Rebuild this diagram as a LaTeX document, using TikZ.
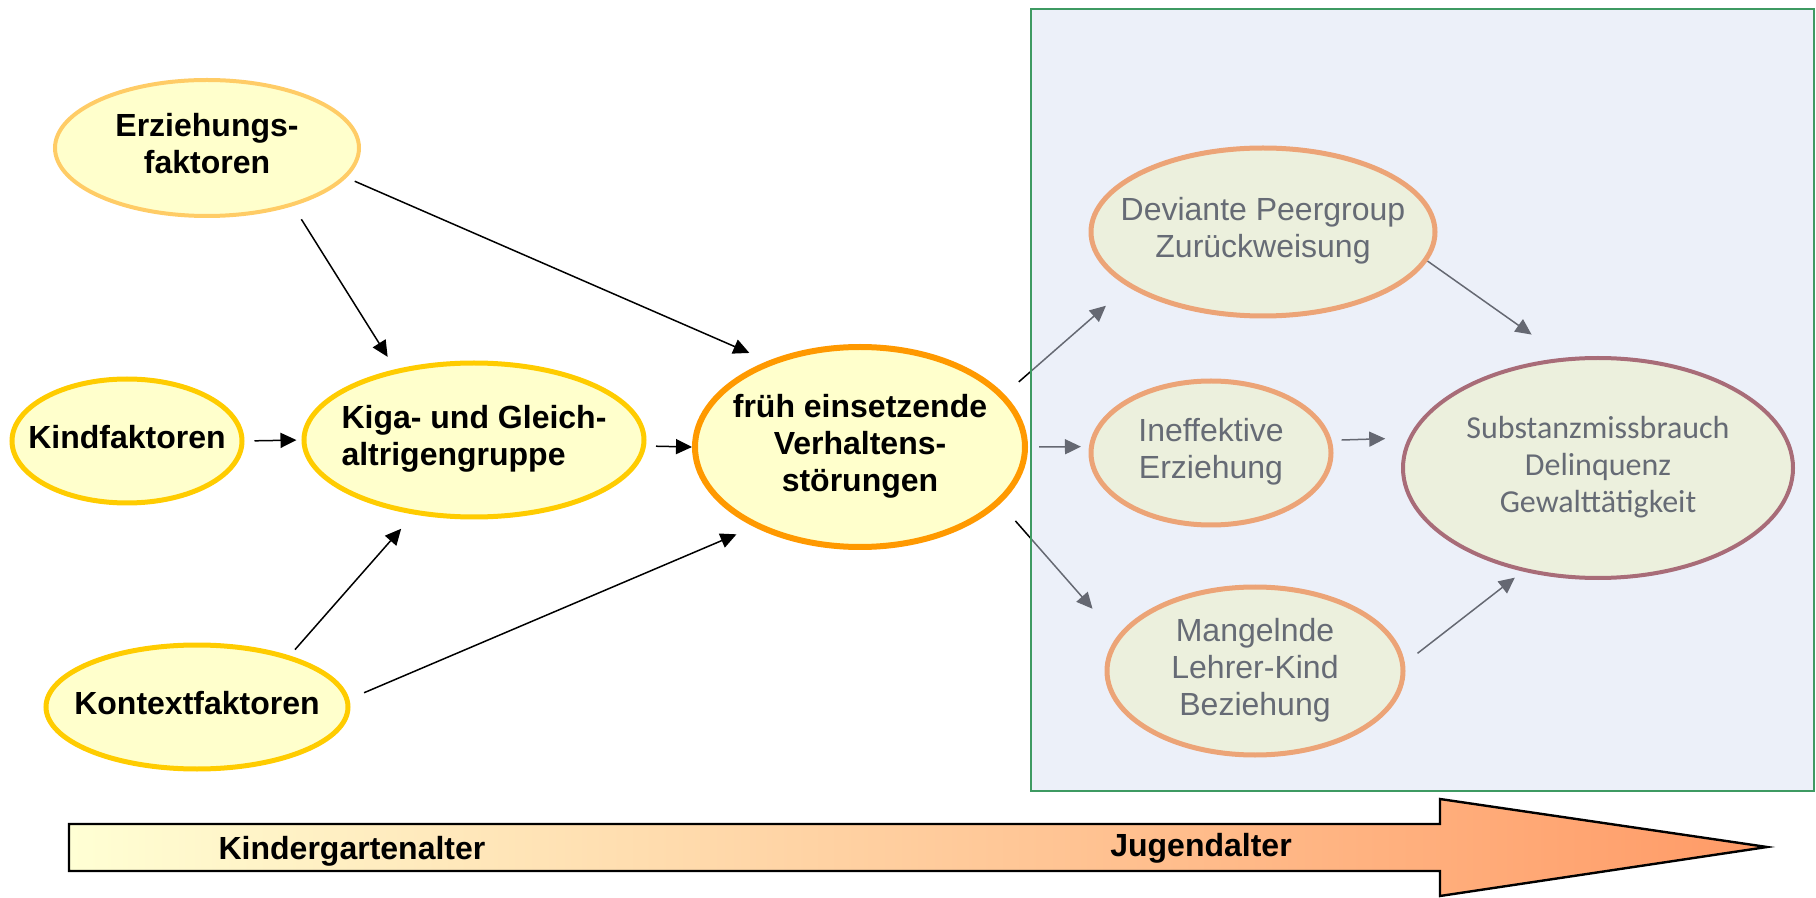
\documentclass[tikz,border=0pt]{standalone}
\usepackage{fontspec}
\setmainfont{Liberation Sans}
\newfontfamily\carlito{Carlito}
\usetikzlibrary{shapes.geometric,arrows.meta}

\definecolor{paleyellow}{HTML}{FFFFCC}
\definecolor{lightgold}{HTML}{FFCC66}
\definecolor{gold}{HTML}{FFCC00}
\definecolor{deeporange}{HTML}{FF9900}
\definecolor{sage}{HTML}{ECF0DD}
\definecolor{salmon}{HTML}{ECA477}
\definecolor{mauve}{HTML}{A86C78}
\definecolor{slate}{HTML}{666B75}
\definecolor{tintblue}{HTML}{D7DFF3}
\definecolor{boxgreen}{HTML}{3E9A62}
\definecolor{arrowstart}{HTML}{FFFFD4}
\definecolor{arrowend}{HTML}{FF9A66}

\pgfdeclarelayer{tint}
\pgfdeclarelayer{front}
\pgfsetlayers{main,tint,front}

% text of an oval, kept out of the oval's size
\newcommand{\ovaltext}[2][c]{\makebox[0pt]{\begin{tabular}{@{}#1@{}}#2\end{tabular}}}

\begin{document}
\begin{tikzpicture}[x=0.5pt,y=-0.5pt,
			axes/.style 2 args={minimum width=#1pt,minimum height=#2pt},
			base node/.style={ellipse,inner sep=0pt,fill=paleyellow,font=\fontsize{16}{18.5}\selectfont\bfseries},
			main node/.style={base node,draw=gold,line width=2.5pt},
			late node/.style={ellipse,inner sep=0pt,fill=sage,draw=salmon,line width=2.5pt,text=slate,font=\fontsize{16}{18.5}\selectfont},
			age label/.style={font=\fontsize{16}{18.5}\selectfont\bfseries},
			arr/.style={-{Triangle[length=8pt,width=7.5pt]},line width=0.75pt}
			]
			
			\useasboundingbox (0,0) rectangle (1816,898);
			
			\begin{pgfonlayer}{front}
			% Kindergartenalter
			\node[base node,draw=lightgold,line width=2pt,axes={152}{68}] (erz) at (207,148) {\ovaltext{Erziehungs-\\faktoren}};
			\node[main node,axes={115}{62}] (kind) at (127,441) {\ovaltext{Kindfaktoren}};
			\node[main node,axes={170}{77}] (kiga) at (474,440) {\ovaltext[l]{Kiga- und Gleich-\\altrigengruppe}};
			\node[main node,axes={151}{62}] (kontext) at (197,707) {\ovaltext{Kontextfaktoren}};
			\node[base node,draw=deeporange,line width=3pt,axes={165}{100}] (frueh) at (860,447) {\ovaltext{früh einsetzende\\Verhaltens-\\störungen}};
			
			% Jugendalter
			\node[late node,axes={172}{84}] (dev) at (1263,232) {\ovaltext{Deviante Peergroup\\Zurückweisung}};
			\node[late node,axes={120}{72}] (ineff) at (1211,453) {\ovaltext{Ineffektive\\Erziehung}};
			\node[late node,axes={148}{84}] (mang) at (1255,671) {\ovaltext{Mangelnde\\Lehrer-Kind\\Beziehung}};
			\node[late node,draw=mauve,line width=2pt,font=\fontsize{16}{18.5}\carlito,axes={195}{110}] (subst) at (1598,468) {\ovaltext{Substanzmissbrauch\\Delinquenz\\Gewalttätigkeit}};
			\end{pgfonlayer}
			
			\draw[arr,shorten <=7.8pt,shorten >=7.3pt] (erz.-34) -- (kiga.138);
			\draw[arr,shorten <=4.5pt,shorten >=10pt] (erz.-12.6) -- (frueh.137.8);
			\draw[arr,shorten <=5pt,shorten >=2.5pt] (kind.east) -- (kiga.west);
			\draw[arr,shorten <=4pt,shorten >=9.5pt] (kontext.29) -- (kiga.231);
			\draw[arr,shorten <=8pt,shorten >=9.5pt] (kontext.3.8) -- (frueh.217.8);
			\draw[arr,shorten <=5pt,shorten >=0pt] (kiga.-2) -- (frueh.180);
			
			\draw[arr,shorten <=9.5pt,shorten >=14.5pt] (frueh.20.8) -- (dev.202.5);
			\draw[arr,shorten <=5.5pt,shorten >=4pt] (frueh.0) -- (ineff.177);
			\draw[arr,shorten <=11.5pt,shorten >=18.5pt] (frueh.-22.9) -- (mang.166.4);
			\draw[arr,shorten <=0pt,shorten >=20pt] (dev.-10.1) -- (subst.107.7);
			\draw[arr,shorten <=5pt,shorten >=11.5pt] (ineff.6) -- (subst.171);
			\draw[arr,shorten <=8pt,shorten >=5pt] (mang.3.9) -- (subst.234);
			
			\begin{pgfonlayer}{tint}
			\fill[tintblue,fill opacity=0.47] (1031,9) rectangle (1814,791);
			\draw[boxgreen,line width=1pt] (1031,9) rectangle (1814,791);
			\end{pgfonlayer}
			
			% time line
			\draw[line width=1.2pt,left color=arrowstart,right color=arrowend]
			(69,824) -- (1440,824) -- (1440,799) -- (1767,847) -- (1440,896) -- (1440,871) -- (69,871) -- cycle;
			\node[age label] (kg) at (352,851) {Kindergartenalter};
			\node[age label] (jg) at (1201,848) {Jugendalter};
			
		\end{tikzpicture}
\end{document}
